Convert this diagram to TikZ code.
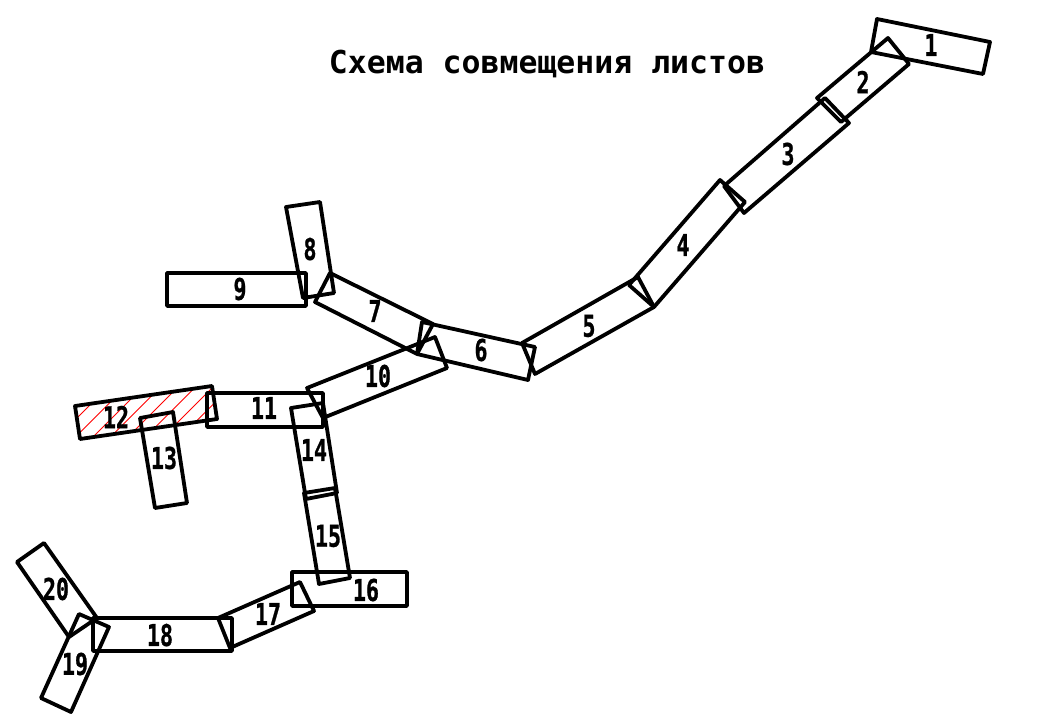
\documentclass[tikz,border=0pt]{standalone}
\usepackage{xcolor}
\usepackage{fontspec}
\usetikzlibrary{positioning}
\newfontfamily\titlefont{DejaVu Sans Mono Bold}
\newfontfamily\numfont[FakeStretch=0.72,FakeBold=0.8]{DejaVu Sans Mono Bold}

\begin{document}
\begin{tikzpicture}[
    x=1pt, y=-1pt,
    sheet/.style={draw=black, line width=3.8pt, line join=round},
    hatchline/.style={draw=red, line width=1pt},
    num/.style={inner sep=0pt, font=\numfont\fontsize{30}{30}\selectfont},
    heading/.style={inner sep=0pt, font=\titlefont\fontsize{31.5}{31.5}\selectfont}
]
    \useasboundingbox (0,0) rectangle (1050,720);

    % hatching of sheet 12
    \begin{scope}
        \clip (75,406) -- (212,386) -- (217,419) -- (80,439) -- cycle;
        \foreach \hx in {115,132.5,...,238}
            \draw[hatchline] (\hx,380) -- (\hx-70,450);
    \end{scope}

    % sheets
    \draw[sheet] (877,19) -- (990,42) -- (983,74) -- (871,52) -- cycle;
    \draw[sheet] (888,38) -- (909,64) -- (841,122) -- (817,98) -- cycle;
    \draw[sheet] (825,98) -- (849,123) -- (744,213) -- (724,186) -- cycle;
    \draw[sheet] (720,180) -- (745,202) -- (654,307) -- (629,285) -- cycle;
    \draw[sheet] (638,277) -- (654,307) -- (535,374) -- (522,343) -- cycle;
    \draw[sheet] (422,322) -- (535,347) -- (528,380) -- (417,354) -- cycle;
    \draw[sheet] (330,273) -- (433,324) -- (417,354) -- (315,302) -- cycle;
    \draw[sheet] (286,207) -- (320,202) -- (334,293) -- (303,298) -- cycle;
    \draw[sheet] (167,273) -- (306,273) -- (306,306) -- (167,306) -- cycle;
    \draw[sheet] (307,388) -- (435,337) -- (447,368) -- (323,418) -- cycle;
    \draw[sheet] (207,393) -- (323,393) -- (323,427) -- (207,427) -- cycle;
    \draw[sheet] (75,406) -- (212,386) -- (217,419) -- (80,439) -- cycle;
    \draw[sheet] (140,418) -- (173,412) -- (187,503) -- (155,508) -- cycle;
    \draw[sheet] (291,408) -- (323,403) -- (337,493) -- (306,499) -- cycle;
    \draw[sheet] (304,493) -- (335,488) -- (350,578) -- (319,584) -- cycle;
    \draw[sheet] (292,572) -- (407,572) -- (407,606) -- (292,606) -- cycle;
    \draw[sheet] (300,582) -- (314,611) -- (230,648) -- (218,618) -- cycle;
    \draw[sheet] (93,618) -- (232,618) -- (232,651) -- (93,651) -- cycle;
    \draw[sheet] (79,614) -- (109,627) -- (71,712) -- (41,698) -- cycle;
    \draw[sheet] (17,562) -- (44,543) -- (97,618) -- (69,637) -- cycle;

    % numbers
    \node[num] (n1) at (931,45) {1};
    \node[num] (n2) at (863,82) {2};
    \node[num] (n3) at (788,154) {3};
    \node[num] (n4) at (683,245) {4};
    \node[num] (n5) at (589,326) {5};
    \node[num] (n6) at (481,350) {6};
    \node[num] (n7) at (375,311) {7};
    \node[num] (n8) at (310,249) {8};
    \node[num] (n9) at (240,289) {9};
    \node[num] (n10) at (378,376) {10};
    \node[num] (n11) at (264,408) {11};
    \node[num] (n12) at (116,417) {12};
    \node[num] (n13) at (164,458) {13};
    \node[num] (n14) at (314,450) {14};
    \node[num] (n15) at (328,536) {15};
    \node[num] (n16) at (366,590) {16};
    \node[num] (n17) at (268,614) {17};
    \node[num] (n18) at (160,635) {18};
    \node[num] (n19) at (75,664) {19};
    \node[num] (n20) at (56,589) {20};

    \node[heading] (title) at (547,64) {Схема совмещения листов};
\end{tikzpicture}
\end{document}
